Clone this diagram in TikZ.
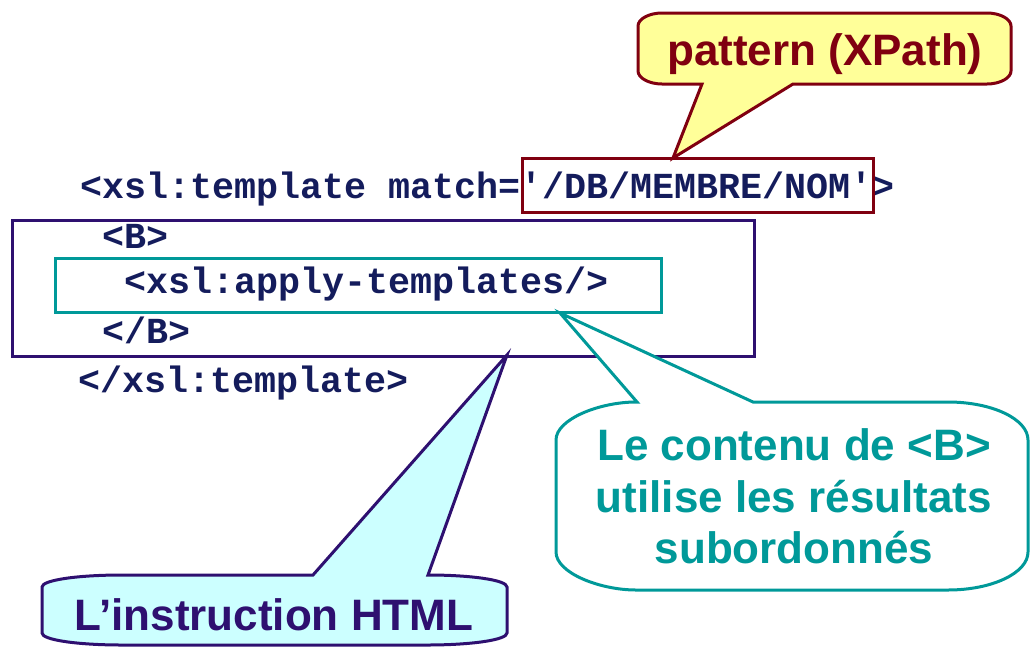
\documentclass[tikz,border=0pt]{standalone}
\usepackage{fontspec}
\setmainfont{Liberation Sans}
\newfontfamily\codefont{Liberation Mono}
\definecolor{codenavy}{RGB}{20,28,92}
\definecolor{maroonc}{RGB}{128,0,16}
\definecolor{purplec}{RGB}{46,16,112}
\definecolor{tealc}{RGB}{0,153,153}
\definecolor{yellowf}{RGB}{255,255,153}
\definecolor{cyanf}{RGB}{204,255,255}
\tikzset{
  codeline/.style={anchor=base west, inner sep=0pt, text=codenavy, font=\codefont\bfseries\fontsize{36.67}{44}\selectfont},
  calltext/.style={inner sep=0pt, align=center, font=\bfseries\fontsize{44}{51.5}\selectfont},
  boxline/.style={line width=3pt},
  callline/.style={line width=3pt, line join=miter},
}
\begin{document}
\begin{tikzpicture}[x=1pt,y=-1pt]
\useasboundingbox (0,0) rectangle (1030,646);
% code lines
\node[codeline] (l1) at (80,198) {<xsl:template match='/DB/MEMBRE/NOM'>};
\node[codeline] (l2) at (102,248) {<B>};
\node[codeline] (l3) at (124,293) {<xsl:apply-templates/>};
\node[codeline] (l4) at (102,343) {</B>};
\node[codeline] (l5) at (78,392) {</xsl:template>};
% boxes
\draw[boxline, purplec] (12,220) rectangle (754,356);
\draw[boxline, tealc] (55,258) rectangle (661,312);
\draw[boxline, maroonc] (522,158) rectangle (873,212);
% tips
\coordinate (ytip) at (673,158);
\coordinate (ttip) at (560,313);
\coordinate (ctip) at (507,355);
% yellow callout
\draw[callline, draw=maroonc, fill=yellowf] (702,84) -- (ytip) -- (793,84) -- (987,84)
  .. controls (1000,84) and (1011,78) .. (1011,71) -- (1011,26)
  .. controls (1011,19) and (1000,13) .. (987,13) -- (662,13)
  .. controls (649,13) and (638,19) .. (638,26) -- (638,71)
  .. controls (638,78) and (649,84) .. (662,84) -- cycle;
\node[calltext, text=maroonc, anchor=base] (pat) at (825,65) {pattern (XPath)};
% teal callout
\draw[callline, draw=tealc, fill=white] (637,402) -- (ttip) -- (753,402) -- (948,402)
  .. controls (992,402) and (1028,419) .. (1028,440) -- (1028,552)
  .. controls (1028,573) and (992,590) .. (948,590) -- (636,590)
  .. controls (600,590) and (556,573) .. (556,552) -- (556,440)
  .. controls (556,419) and (600,402) .. (636,402) -- cycle;
\node[calltext, text=tealc, anchor=base] (cont1) at (794,460) {Le contenu de <B>};
\node[calltext, text=tealc, anchor=base] (cont2) at (794,512) {utilise les résultats};
\node[calltext, text=tealc, anchor=base] (cont3) at (794,563) {subordonnés};
% cyan callout
\draw[callline, draw=purplec, fill=cyanf] (313,575) -- (ctip) -- (428,575)
  .. controls (471,575) and (507,580) .. (507,587) -- (507,633)
  .. controls (507,640) and (471,645) .. (427,645) -- (122,645)
  .. controls (78,645) and (42,640) .. (42,633) -- (42,587)
  .. controls (42,580) and (78,575) .. (122,575) -- cycle;
\node[calltext, text=purplec, anchor=base] (html) at (274,630) {L’instruction HTML};
\end{tikzpicture}
\end{document}
